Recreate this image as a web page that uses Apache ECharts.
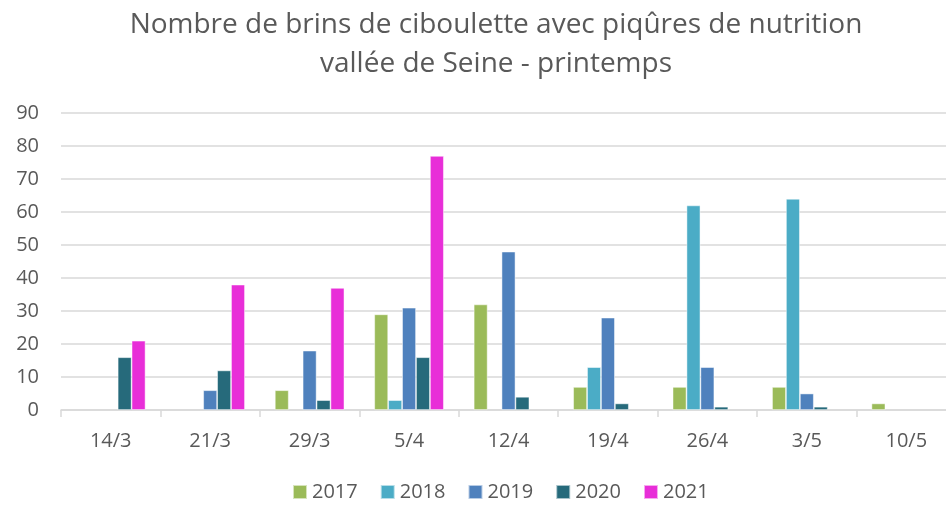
<!DOCTYPE html>
<html>
<head>
<meta charset="utf-8">
<script src="https://cdn.jsdelivr.net/npm/echarts@6/dist/echarts.min.js"></script>
<style>
  html, body { margin: 0; padding: 0; background: #fff; }
  #chart { width: 946px; height: 507px; }
</style>
</head>
<body>
<div id="chart"></div>
<script>
// data (null = no bar)
const dates = ["14/3", "21/3", "29/3", "5/4", "12/4", "19/4", "26/4", "3/5", "10/5"];
const years = ["2017", "2018", "2019", "2020", "2021"];
const v2017 = [null, null, 6, 29, 32, 7, 7, 7, 2];
const v2018 = [null, null, null, 3, null, 13, 62, 64, null];
const v2019 = [null, 6, 18, 31, 48, 28, 13, 5, null];
const v2020 = [16, 12, 3, 16, 4, 2, 1, 1, null];
const v2021 = [21, 38, 37, 77, null, null, null, null, null];
const yTicks = [0, 10, 20, 30, 40, 50, 60, 70, 80, 90];

const colors = ["#9BBB59", "#4BACC6", "#4F81BD", "#266A7B", "#E82ED8"];
const values = [v2017, v2018, v2019, v2020, v2021];
const font = "'Open Sans', 'Noto Sans', sans-serif";

var myChart = echarts.init(document.getElementById("chart"));
myChart.setOption({
  animation: false,
  color: colors,
  textStyle: { fontFamily: font },
  title: {
    text: "Nombre de brins de ciboulette avec piqûres de nutrition\nvallée de Seine - printemps",
    left: 491,
    textAlign: "center",
    top: 1,
    textStyle: { fontSize: 28, fontWeight: "normal", color: "#595959", lineHeight: 39, fontFamily: font }
  },
  legend: {
    bottom: 0,
    left: 287,
    icon: "rect",
    itemWidth: 14,
    itemHeight: 14,
    itemGap: 22,
    textStyle: { fontSize: 20, color: "#595959", fontFamily: font },
    data: years
  },
  // the plot runs a little past the right edge of the picture
  grid: { left: 61, width: 895, top: 113, bottom: 97, containLabel: false, outerBoundsMode: "none" },
  xAxis: {
    type: "category",
    data: dates,
    axisLine: { lineStyle: { color: "#d9d9d9", width: 1.5 } },
    axisTick: { show: true, length: 7, lineStyle: { color: "#d9d9d9", width: 1.5 } },
    axisLabel: { fontSize: 20, color: "#595959", margin: 21 }
  },
  yAxis: {
    type: "value",
    min: yTicks[0],
    max: yTicks[yTicks.length - 1],
    interval: 10,
    axisLine: { show: false },
    axisTick: { show: false },
    axisLabel: { fontSize: 20, color: "#595959", margin: 22 },
    splitLine: { lineStyle: { color: "#d9d9d9", width: 1.5 } }
  },
  series: years.map(function (y, i) {
    return {
      name: y,
      type: "bar",
      data: values[i],
      barGap: "0%",
      barCategoryGap: "30%",
      itemStyle: { borderColor: "rgba(255,255,255,0.6)", borderWidth: 0.8 }
    };
  })
});
</script>
</body>
</html>
